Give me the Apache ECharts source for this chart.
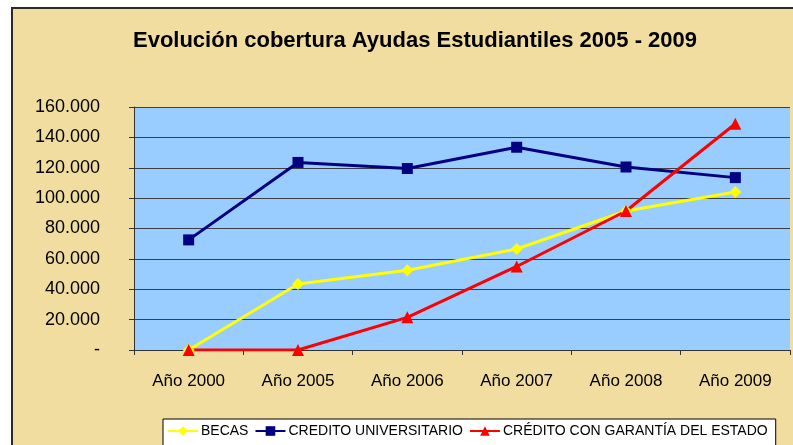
<!DOCTYPE html>
<html>
<head>
<meta charset="utf-8">
<script src="https://cdn.jsdelivr.net/npm/echarts@6/dist/echarts.min.js"></script>
<style>
  body { margin: 0; background: #fff; }
  #wrap { position: relative; width: 793px; height: 445px; overflow: hidden; }
  #paper { position: absolute; left: 11px; top: 7px; right: -4px; bottom: -4px;
           background: #F0DD9F; border-left: 2px solid #2b2b2b; border-top: 2px solid #2b2b2b; }
  #chart { position: absolute; left: 0; top: 0; width: 793px; height: 445px; }
</style>
</head>
<body>
<div id="wrap">
  <div id="paper"></div>
  <div id="chart"></div>
</div>
<script>
// datos
var years = ["Año 2000", "Año 2005", "Año 2006", "Año 2007", "Año 2008", "Año 2009"];
var becas = [0, 43500, 52500, 66500, 91500, 104000];
var creditoUniv = [72500, 123500, 119500, 133500, 120500, 113500];
var creditoGarantia = [0, 0, 21500, 55000, 91500, 149000];

var myChart = echarts.init(document.getElementById("chart"));

function fmt(v) {
  if (v === 0) return "-";
  return String(v).replace(/\B(?=(\d{3})+(?!\d))/g, ".");
}

var option = {
  animation: false,
  title: {
    text: "Evolución cobertura Ayudas Estudiantiles 2005 - 2009",
    left: 410,
    textAlign: "center",
    top: 25,
    textStyle: { fontFamily: "Liberation Sans", fontWeight: "bold", fontSize: 22, color: "#000" }
  },
  legend: {
    left: 163,
    top: 419,
    backgroundColor: "#fff",
    borderColor: "#000",
    borderWidth: 1,
    padding: [5, 8, 10, 4],
    itemWidth: 30,
    itemHeight: 12,
    itemGap: 6,
    textStyle: { fontFamily: "Liberation Sans", fontSize: 14, color: "#000", padding: [0, 0, 0, -2] },
    data: ["BECAS", "CREDITO UNIVERSITARIO", "CRÉDITO CON GARANTÍA DEL ESTADO"]
  },
  grid: { left: 134, right: 3, top: 107, bottom: 95 },
  xAxis: {
    type: "category",
    data: years,
    boundaryGap: true,
    axisLine: { lineStyle: { color: "#333", width: 1 } },
    axisTick: { show: true, length: 5, lineStyle: { color: "#333" } },
    axisLabel: { fontFamily: "Liberation Sans", fontSize: 17, color: "#000", margin: 23 }
  },
  yAxis: {
    type: "value",
    min: 0,
    max: 160000,
    interval: 20000,
    axisLine: { show: true, lineStyle: { color: "#333", width: 1 } },
    axisTick: { show: true, length: 5, lineStyle: { color: "#333" } },
    axisLabel: { fontFamily: "Liberation Sans", fontSize: 18, color: "#000", margin: 34, formatter: fmt },
    splitLine: { lineStyle: { color: "#3a3f4a", width: 1 } },
    splitArea: { show: true, areaStyle: { color: ["#99CCFF", "#99CCFF"] } }
  },
  series: [
    {
      name: "BECAS",
      type: "line",
      data: becas,
      symbol: "diamond",
      symbolSize: 12,
      lineStyle: { color: "#FFFF00", width: 3 },
      itemStyle: { color: "#FFFF00" }
    },
    {
      name: "CREDITO UNIVERSITARIO",
      type: "line",
      data: creditoUniv,
      symbol: "rect",
      symbolSize: 11,
      lineStyle: { color: "#000080", width: 3 },
      itemStyle: { color: "#000080" }
    },
    {
      name: "CRÉDITO CON GARANTÍA DEL ESTADO",
      type: "line",
      data: creditoGarantia,
      symbol: "triangle",
      symbolSize: 12,
      lineStyle: { color: "#FF0000", width: 3 },
      itemStyle: { color: "#FF0000" }
    }
  ]
};

myChart.setOption(option);
</script>
</body>
</html>
